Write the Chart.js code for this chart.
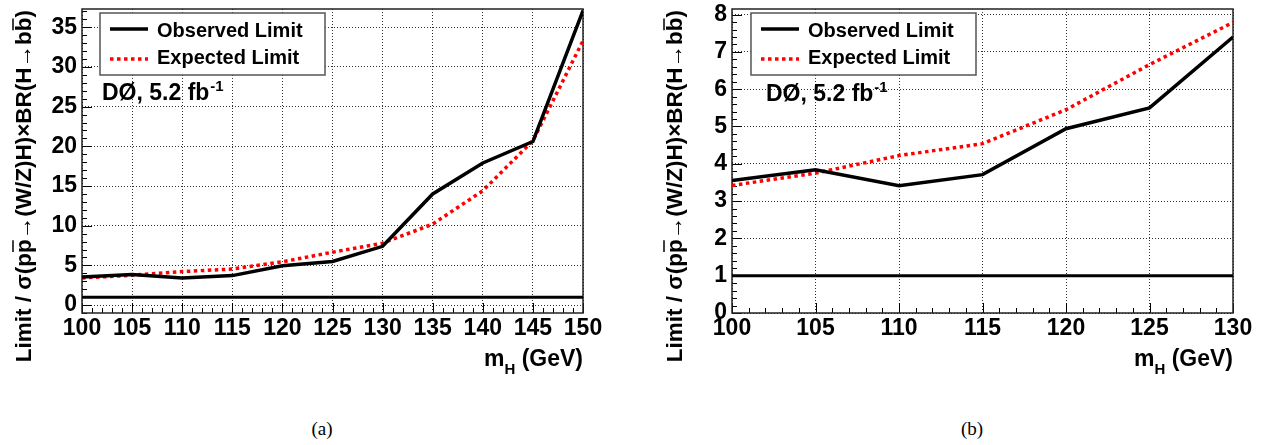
<!DOCTYPE html>
<html>
<head>
<meta charset="UTF-8">
<title>WH/ZH limits - D0 5.2 fb-1</title>
<script src="https://cdn.jsdelivr.net/npm/chart.js"></script>
<style>
  body { margin: 0; background: #fff; width: 1271px; height: 445px; position: relative; overflow: hidden; }
  canvas { position: absolute; top: 0; }
  #ca { left: 0; }
  #cb { left: 650px; }
  .cap { position: absolute; top: 418px; width: 60px; text-align: center; font: 19px "Liberation Serif", serif; color: #000; }
</style>
</head>
<body>
<canvas id="ca" width="640" height="400"></canvas>
<canvas id="cb" width="621" height="400"></canvas>
<div class="cap" style="left:292px">(a)</div>
<div class="cap" style="left:942px">(b)</div>

<script>
// values (limit / SM)
var masses   = [100, 105, 110, 115, 120, 125, 130, 135, 140, 145, 150];
var observed = [3.55, 3.84, 3.41, 3.71, 4.94, 5.5, 7.4, 14.0, 17.9, 20.6, 37.1];
var expected = [3.42, 3.75, 4.22, 4.54, 5.45, 6.66, 7.79, 10.2, 14.4, 20.7, 33.3];
var smLine   = 1;

var xTicksA = [100, 105, 110, 115, 120, 125, 130, 135, 140, 145, 150];
var yTicksA = [0, 5, 10, 15, 20, 25, 30, 35];
var xTicksB = [100, 105, 110, 115, 120, 125, 130];
var yTicksB = [0, 1, 2, 3, 4, 5, 6, 7, 8];

var FONT = '"Liberation Sans", Arial, sans-serif';

function pts(xs, ys) {
  return xs.map(function (x, i) { return { x: x, y: ys[i] }; });
}

// ROOT style frame, inward ticks, legend and labels
var rootStyle = {
  id: 'rootStyle',
  beforeDatasetsDraw: function (chart, args, o) {
    var c = chart.ctx, a = chart.chartArea, xs = chart.scales.x, ys = chart.scales.y;
    c.save();
    c.strokeStyle = '#000';
    c.lineWidth = 1;
    var i, v, p, major;
    for (i = Math.ceil(xs.min / o.minorX - 1e-6); i * o.minorX <= xs.max + 1e-6; i++) {
      v = i * o.minorX;
      major = Math.abs(v / o.majorX - Math.round(v / o.majorX)) < 1e-6;
      p = Math.round(xs.getPixelForValue(v)) + 0.5;
      c.beginPath(); c.moveTo(p, a.bottom); c.lineTo(p, a.bottom - (major ? 10 : 5)); c.stroke();
    }
    for (i = Math.ceil(ys.min / o.minorY - 1e-6); i * o.minorY <= ys.max + 1e-6; i++) {
      v = i * o.minorY;
      major = Math.abs(v / o.majorY - Math.round(v / o.majorY)) < 1e-6;
      p = Math.round(ys.getPixelForValue(v)) + 0.5;
      c.beginPath(); c.moveTo(a.left, p); c.lineTo(a.left + (major ? 10 : 5), p); c.stroke();
    }
    c.lineWidth = 1.5;
    c.strokeStyle = '#222';
    c.strokeRect(a.left, a.top, a.width, a.height);
    c.restore();
  },
  afterDraw: function (chart, args, o) {
    var c = chart.ctx, a = chart.chartArea;
    c.save();
    // legend box
    var bx = a.left + o.legendDx, by = 13, bw = 225, bh = 62;
    c.fillStyle = '#fff';
    c.fillRect(bx, by, bw, bh);
    c.strokeStyle = '#555';
    c.lineWidth = 1.5;
    c.strokeRect(bx, by, bw, bh);
    c.lineWidth = 3.5;
    c.strokeStyle = '#000';
    c.beginPath(); c.moveTo(bx + 10, by + 16); c.lineTo(bx + 48, by + 16); c.stroke();
    c.strokeStyle = '#ff0000';
    c.setLineDash([3.5, 3.5]);
    c.beginPath(); c.moveTo(bx + 10, by + 46); c.lineTo(bx + 48, by + 46); c.stroke();
    c.setLineDash([]);
    c.fillStyle = '#000';
    c.font = 'bold 20px ' + FONT;
    c.textBaseline = 'alphabetic';
    c.textAlign = 'left';
    c.fillText('Observed Limit', bx + 57, by + 24);
    c.fillText('Expected Limit', bx + 57, by + 51);

    // experiment label
    c.font = 'bold 23px ' + FONT;
    var tx = a.left + o.labelDx, ty = o.labelY;
    c.fillText('D\u00D8, 5.2 fb', tx, ty);
    var w = c.measureText('D\u00D8, 5.2 fb').width;
    c.font = 'bold 15px ' + FONT;
    c.fillText('-1', tx + w + 1, ty - 9);

    // x axis title  m_H (GeV)
    c.font = 'bold 23px ' + FONT;
    var wm = c.measureText('m').width, wr = c.measureText(' (GeV)').width;
    c.font = 'bold 15px ' + FONT;
    var wh = c.measureText('H').width;
    var x0 = a.right - wm - wh - wr;
    c.font = 'bold 23px ' + FONT;
    c.fillText('m', x0, 366);
    c.fillText(' (GeV)', x0 + wm + wh, 366);
    c.font = 'bold 15px ' + FONT;
    c.fillText('H', x0 + wm, 374);

    // y axis title, rotated, ends at the top of the frame
    c.translate(o.yTitleX, 10);
    c.rotate(-Math.PI / 2);
    c.font = 'bold 22.5px ' + FONT;
    var parts = ['Limit / ', '\u03C3', '(p', 'p', '\u2192(W/Z)H)', '\u00D7', 'BR(H', '\u2192', 'b', 'b', ')'];
    var bars = { 3: true, 9: true };
    var total = 0, widths = [];
    parts.forEach(function (s) { var m = c.measureText(s).width; widths.push(m); total += m; });
    var px = -total;
    parts.forEach(function (s, k) {
      c.fillText(s, px, 0);
      if (bars[k]) {
        c.lineWidth = 1.5;
        c.strokeStyle = '#000';
        c.beginPath(); c.moveTo(px + 1, -18); c.lineTo(px + widths[k] - 1, -18); c.stroke();
      }
      px += widths[k];
    });
    c.restore();
  }
};

function makeChart(id, xs, obs, exp, xTicks, yTicks, xmin, xmax, ymin, ymax, padRight, extra) {
  var tickFont = { family: FONT, size: 23, weight: 'bold' };
  return new Chart(document.getElementById(id), {
    type: 'line',
    data: {
      datasets: [
        { label: 'Observed Limit', data: pts(xs, obs), borderColor: '#000', borderWidth: 3.5, pointRadius: 0, tension: 0 },
        { label: 'Expected Limit', data: pts(xs, exp), borderColor: '#ff0000', borderWidth: 3.5, borderDash: [3.5, 3.5], pointRadius: 0, tension: 0 },
        { label: 'SM', data: [{ x: xmin, y: smLine }, { x: xmax, y: smLine }], borderColor: '#000', borderWidth: 3, pointRadius: 0 }
      ]
    },
    options: {
      responsive: false,
      animation: false,
      layout: { padding: { left: 0, top: 9, right: padRight, bottom: 0 } },
      plugins: { legend: { display: false }, tooltip: { enabled: false }, rootStyle: extra },
      scales: {
        x: {
          type: 'linear', min: xmin, max: xmax,
          afterBuildTicks: function (s) { s.ticks = xTicks.map(function (v) { return { value: v }; }); },
          afterFit: function (s) { s.height = 87; s.paddingLeft = 0; s.paddingRight = 0; },
          ticks: { font: tickFont, color: '#000', padding: 2, maxRotation: 0, autoSkip: false },
          grid: { color: '#333', lineWidth: 1, drawTicks: false },
          border: { display: false, dash: [1, 2] }
        },
        y: {
          type: 'linear', min: ymin, max: ymax,
          afterBuildTicks: function (s) { s.ticks = yTicks.map(function (v) { return { value: v }; }); },
          afterFit: function (s) { s.width = 82; s.paddingTop = 0; s.paddingBottom = 0; },
          ticks: { font: tickFont, color: '#000', padding: 5 },
          grid: { color: '#333', lineWidth: 1, drawTicks: false },
          border: { display: false, dash: [1, 2] }
        }
      }
    },
    plugins: [rootStyle]
  });
}

makeChart('ca', masses, observed, expected, xTicksA, yTicksA, 100, 150, -1, 37.3, 57,
  { minorX: 1, majorX: 5, minorY: 1, majorY: 5, legendDx: 18, labelDx: 20, labelY: 100, yTitleX: 31 });

makeChart('cb', masses.slice(0, 7), observed.slice(0, 7), expected.slice(0, 7), xTicksB, yTicksB, 100, 130, 0, 8.15, 38,
  { minorX: 1, majorX: 5, minorY: 0.2, majorY: 1, legendDx: 19, labelDx: 34, labelY: 101, yTitleX: 32 });
</script>
</body>
</html>
